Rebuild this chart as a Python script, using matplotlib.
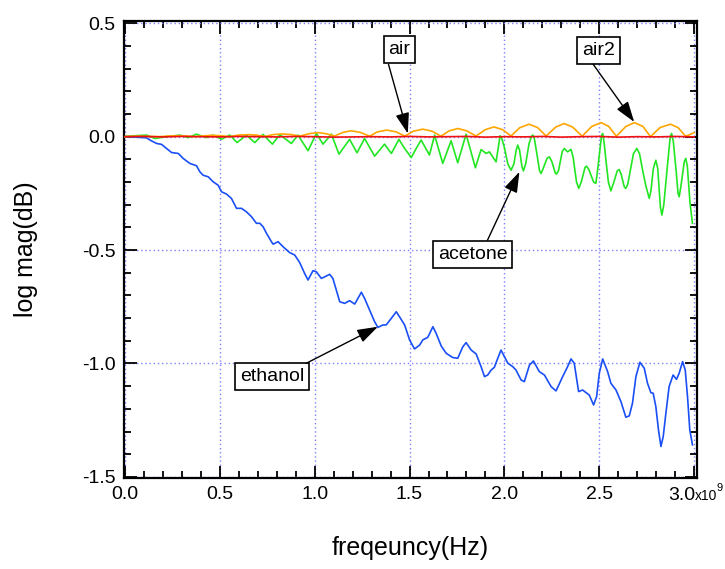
import matplotlib
matplotlib.use("Agg")
import matplotlib.pyplot as plt
from matplotlib.ticker import MultipleLocator, FixedLocator
import numpy as np

plt.rcParams['font.family'] = ['Liberation Sans', 'DejaVu Sans']

# ---------------- data (frequency in GHz, magnitude in dB) ----------------
air_f = [0.00, 0.10, 0.20, 0.30, 0.40, 0.50, 0.60, 0.70, 0.80, 0.90, 1.00, 1.10, 1.20,
         1.30, 1.40, 1.50, 1.60, 1.70, 1.80, 1.90, 2.00, 2.10, 2.20, 2.30, 2.40, 2.50,
         2.60, 2.70, 2.80, 2.90, 3.00]
air_v = [0.000, 0.001, -0.001, 0.001, 0.000, -0.001, 0.001, 0.000, -0.001, 0.001, 0.000,
         -0.002, -0.001, 0.000, -0.001, 0.001, -0.001, 0.000, 0.001, -0.002, 0.000, -0.001,
         0.001, -0.002, 0.000, 0.001, -0.002, 0.000, -0.001, 0.001, -0.001]

air2_f = [0.00, 0.05, 0.09, 0.14, 0.18, 0.23, 0.28, 0.32, 0.37, 0.42, 0.46, 0.51, 0.55,
          0.60, 0.65, 0.69, 0.74, 0.78, 0.83, 0.88, 0.92, 0.97, 1.02, 1.06, 1.105, 1.15,
          1.19, 1.24, 1.29, 1.33, 1.38, 1.43, 1.475, 1.52, 1.57, 1.62, 1.665, 1.71, 1.755,
          1.80, 1.85, 1.90, 1.945, 1.99, 2.035, 2.08, 2.13, 2.175, 2.22, 2.27, 2.315, 2.36,
          2.41, 2.46, 2.51, 2.55, 2.59, 2.64, 2.685, 2.73, 2.77, 2.82, 2.875, 2.915, 2.955,
          2.98, 3.00]
air2_v = [0.000, 0.002, 0.002, 0.001, 0.000, 0.003, 0.004, 0.003, 0.000, 0.004, 0.006, 0.004,
          0.000, 0.007, 0.009, 0.007, 0.001, 0.009, 0.012, 0.009, 0.002, 0.013, 0.018, 0.013,
          0.003, 0.019, 0.026, 0.019, 0.002, 0.021, 0.029, 0.021, 0.002, 0.024, 0.033, 0.024,
          0.002, 0.026, 0.036, 0.026, 0.003, 0.031, 0.043, 0.031, 0.003, 0.039, 0.055, 0.040,
          0.003, 0.042, 0.058, 0.042, 0.002, 0.045, 0.062, 0.045, 0.002, 0.045, 0.062, 0.045,
          0.000, 0.040, 0.055, 0.040, 0.002, 0.010, 0.018]

acetone_f = [0.000, 0.009, 0.114, 0.158, 0.219, 0.289, 0.333, 0.377, 0.430, 0.465, 0.509,
             0.553, 0.591, 0.640, 0.684, 0.728, 0.777, 0.816, 0.877, 0.912, 0.965, 1.009,
             1.044, 1.088, 1.128, 1.184, 1.223, 1.263, 1.316, 1.368, 1.404, 1.444, 1.474,
             1.509, 1.535, 1.561, 1.605, 1.632, 1.675, 1.719, 1.754, 1.798, 1.847, 1.877,
             1.904, 1.921, 1.956, 1.977, 1.985, 1.999, 2.018, 2.035, 2.050, 2.062, 2.070,
             2.080, 2.092, 2.100, 2.112, 2.130, 2.143, 2.149, 2.156, 2.170, 2.185, 2.193,
             2.202, 2.225, 2.237, 2.250, 2.268, 2.275, 2.285, 2.305, 2.316, 2.333, 2.351,
             2.362, 2.380, 2.392, 2.405, 2.425, 2.433, 2.445, 2.470, 2.482, 2.491, 2.505,
             2.512, 2.518, 2.526, 2.535, 2.548, 2.561, 2.575, 2.595, 2.605, 2.615, 2.632,
             2.640, 2.650, 2.680, 2.698, 2.712, 2.730, 2.745, 2.763, 2.772, 2.785, 2.798,
             2.808, 2.822, 2.830, 2.840, 2.860, 2.874, 2.881, 2.890, 2.905, 2.915, 2.921,
             2.930, 2.948, 2.956, 2.964, 2.978, 2.991]
acetone_v = [0.000, 0.002, 0.007, -0.008, 0.000, 0.007, -0.004, 0.011, -0.004, 0.007, -0.011,
             0.007, -0.026, 0.007, -0.026, 0.010, -0.033, 0.009, -0.030, 0.007, -0.062, 0.014,
             -0.033, 0.011, -0.077, -0.012, -0.071, -0.008, -0.086, -0.033, -0.074, -0.012,
             -0.052, -0.092, -0.052, -0.015, -0.081, 0.007, -0.118, -0.018, -0.115, 0.011,
             -0.137, -0.057, -0.074, -0.067, -0.111, 0.004, -0.005, -0.045, -0.120, -0.148,
             -0.120, -0.060, -0.037, -0.060, -0.130, -0.151, -0.120, -0.030, 0.002, 0.007,
             0.000, -0.070, -0.150, -0.162, -0.145, -0.095, -0.089, -0.110, -0.160, -0.165,
             -0.150, -0.065, -0.052, -0.067, -0.056, -0.090, -0.200, -0.228, -0.200, -0.135,
             -0.130, -0.145, -0.200, -0.206, -0.148, -0.045, 0.005, 0.014, -0.030, -0.104,
             -0.200, -0.239, -0.205, -0.150, -0.145, -0.165, -0.222, -0.228, -0.210, -0.075,
             -0.052, -0.075, -0.155, -0.215, -0.272, -0.240, -0.140, -0.104, -0.140, -0.310,
             -0.346, -0.300, -0.120, 0.000, 0.014, -0.020, -0.150, -0.250, -0.265, -0.220,
             -0.110, -0.096, -0.130, -0.290, -0.382]

ethanol_f = [0.000, 0.053, 0.114, 0.132, 0.167, 0.193, 0.219, 0.246, 0.281, 0.307, 0.342,
             0.377, 0.395, 0.412, 0.439, 0.465, 0.491, 0.509, 0.535, 0.561, 0.588, 0.614,
             0.640, 0.667, 0.693, 0.711, 0.728, 0.746, 0.772, 0.781, 0.807, 0.833, 0.868,
             0.895, 0.921, 0.947, 0.965, 0.991, 1.009, 1.035, 1.053, 1.079, 1.096, 1.114,
             1.132, 1.158, 1.184, 1.211, 1.246, 1.263, 1.289, 1.316, 1.333, 1.360, 1.377,
             1.404, 1.430, 1.447, 1.474, 1.500, 1.526, 1.553, 1.570, 1.596, 1.623, 1.640,
             1.667, 1.693, 1.728, 1.754, 1.781, 1.798, 1.825, 1.851, 1.877, 1.895, 1.912,
             1.930, 1.947, 1.965, 1.982, 2.000, 2.018, 2.044, 2.061, 2.088, 2.105, 2.132,
             2.153, 2.184, 2.211, 2.246, 2.272, 2.307, 2.333, 2.351, 2.368, 2.391, 2.412,
             2.447, 2.470, 2.486, 2.500, 2.518, 2.544, 2.561, 2.588, 2.614, 2.640, 2.658,
             2.675, 2.693, 2.714, 2.737, 2.754, 2.772, 2.784, 2.798, 2.812, 2.825, 2.837,
             2.851, 2.868, 2.889, 2.907, 2.921, 2.939, 2.953, 2.965, 2.977, 2.991]
ethanol_v = [0.000, -0.002, -0.005, -0.015, -0.030, -0.034, -0.052, -0.070, -0.074, -0.096,
             -0.118, -0.128, -0.155, -0.170, -0.177, -0.199, -0.214, -0.243, -0.253, -0.272,
             -0.316, -0.316, -0.331, -0.353, -0.382, -0.382, -0.397, -0.426, -0.463, -0.474,
             -0.463, -0.485, -0.511, -0.522, -0.555, -0.603, -0.632, -0.591, -0.596, -0.625,
             -0.618, -0.607, -0.625, -0.676, -0.728, -0.735, -0.723, -0.738, -0.686, -0.713,
             -0.764, -0.816, -0.841, -0.830, -0.830, -0.801, -0.772, -0.794, -0.830, -0.896,
             -0.936, -0.919, -0.896, -0.885, -0.838, -0.867, -0.923, -0.955, -0.974, -0.977,
             -0.926, -0.908, -0.941, -0.958, -1.014, -1.058, -1.051, -1.029, -1.017, -0.977,
             -0.941, -0.970, -0.999, -1.014, -1.029, -1.073, -1.080, -1.007, -0.989, -1.036,
             -1.051, -1.102, -1.121, -1.058, -1.014, -0.980, -0.999, -1.124, -1.117, -1.139,
             -1.183, -1.146, -1.043, -0.980, -1.036, -1.087, -1.117, -1.168, -1.237, -1.231,
             -1.175, -1.058, -0.995, -1.021, -1.087, -1.129, -1.131, -1.190, -1.293, -1.366,
             -1.322, -1.219, -1.102, -1.051, -1.070, -1.043, -0.992, -1.029, -1.146, -1.293,
             -1.359]

x_ticks = [0.0, 0.5, 1.0, 1.5, 2.0, 2.5, 3.0]
x_tick_labels = ['0.0', '0.5', '1.0', '1.5', '2.0', '2.5', '']
last_label_parts = ['3.0', 'x10', '9']
y_ticks = [0.5, 0.0, -0.5, -1.0, -1.5]
y_tick_labels = ['0.5', '0.0', '-0.5', '-1.0', '-1.5']

# annotations: label, box centre (GHz, dB), arrow start, arrow tip
ann_labels = ['air', 'air2', 'acetone', 'ethanol']
ann_box = [(1.447, 0.385), (2.495, 0.381), (1.832, -0.518), (0.774, -1.059)]
ann_start = [(1.389, 0.319), (2.468, 0.319), (1.911, -0.456), (0.956, -0.999)]
ann_tip = [(1.491, 0.014), (2.684, 0.065), (2.079, -0.155), (1.333, -0.838)]

# ---------------- figure ----------------
fig = plt.figure(figsize=(7.25, 5.69), dpi=100)
ax = fig.add_axes([124 / 725, 1 - 478 / 569, (697 - 124) / 725, (478 - 21) / 569])

G = 1e9
ax.plot(np.array(ethanol_f) * G, ethanol_v, color='#1a4ff5', lw=1.2, zorder=3)
ax.plot(np.array(acetone_f) * G, acetone_v, color='#22e622', lw=1.2, zorder=3)
ax.plot(np.array(air2_f) * G, air2_v, color='#ffa500', lw=1.2, zorder=4)
ax.plot(np.array(air_f) * G, air_v, color='#f01010', lw=1.2, zorder=5)

ax.set_xlim(-0.005 * G, 3.015 * G)
ax.set_ylim(-1.505, 0.51)

ax.xaxis.set_major_locator(FixedLocator([t * G for t in x_ticks]))
ax.set_xticklabels(x_tick_labels)
ax.xaxis.set_minor_locator(MultipleLocator(0.1 * G))
ax.yaxis.set_major_locator(FixedLocator(y_ticks))
ax.set_yticklabels(y_tick_labels)
ax.yaxis.set_minor_locator(MultipleLocator(0.1))

ax.tick_params(which='both', direction='in', top=True, right=True, width=1.3,
               labelsize=14, colors='black')
ax.tick_params(which='major', length=9, pad=6)
ax.tick_params(which='minor', length=5)
for s in ax.spines.values():
    s.set_linewidth(1.6)

# last x tick label "3.0x10^9" built from parts (offsets in points)
xt = ax.get_xaxis_transform()
part_offsets = [(-18.7, -16.0), (0.6, -16.0), (16.4, -9.5)]
part_sizes = [14, 10, 8]
for txt, off, fs in zip(last_label_parts, part_offsets, part_sizes):
    ax.annotate(txt, xy=(3.0 * G, 0), xycoords=xt, xytext=off,
                textcoords='offset points', ha='left', va='baseline', fontsize=fs,
                annotation_clip=False)

ax.grid(True, which='major', color='#7f7fff', linestyle=(0, (1, 2)), linewidth=1.0)
ax.set_axisbelow(True)

ax.set_xlabel('freqeuncy(Hz)', fontsize=18)
ax.set_ylabel('log mag(dB)', fontsize=18)
ax.xaxis.set_label_coords(0.5, (478 - 548) / 457)
ax.xaxis.label.set_va('center')
ax.yaxis.set_label_coords((26 - 124) / 573, 0.5)
ax.yaxis.label.set_va('center')

for lab, b, s, t in zip(ann_labels, ann_box, ann_start, ann_tip):
    ax.text(b[0] * G, b[1], lab, fontsize=14, ha='center', va='center', zorder=6,
            bbox=dict(boxstyle='square,pad=0.25', fc='white', ec='black', lw=1.2))
    ax.annotate('', xy=(t[0] * G, t[1]), xytext=(s[0] * G, s[1]), zorder=7,
                arrowprops=dict(arrowstyle='-|>,head_length=0.9,head_width=0.3',
                                color='black', lw=1.0, shrinkA=0, shrinkB=0,
                                mutation_scale=14))

fig.savefig('out.png', dpi=100)
